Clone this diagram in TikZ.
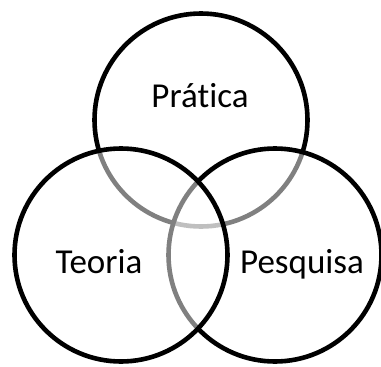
\documentclass[tikz,border=0pt]{standalone}
\usepackage{fontspec}
\setmainfont[Ligatures=NoCommon]{Carlito}
\usepackage{tikz}
\usetikzlibrary{positioning}

\begin{document}
\begin{tikzpicture}[
    x=1pt, y=-1pt,
    ring/.style={circle, draw=black, line width=4.6pt, fill=white,
                 fill opacity=0.5, minimum size=213pt, inner sep=0pt},
    lbl/.style={font=\fontsize{35}{42}\selectfont, inner sep=0pt, anchor=base}
  ]
  \useasboundingbox (0,0) rectangle (381,367);
  % drawing order gives the grey arcs
  \node[ring] (pratica)  at (201,120) {};
  \node[ring] (pesquisa) at (275,255) {};
  \node[ring] (teoria)   at (121,255) {};

  \node[lbl] (tpratica)  at (200,107) {Prática};
  \node[lbl] (tteoria)   at (99,273)  {Teoria};
  \node[lbl] (tpesquisa) at (302,273) {Pesquisa};
\end{tikzpicture}
\end{document}
